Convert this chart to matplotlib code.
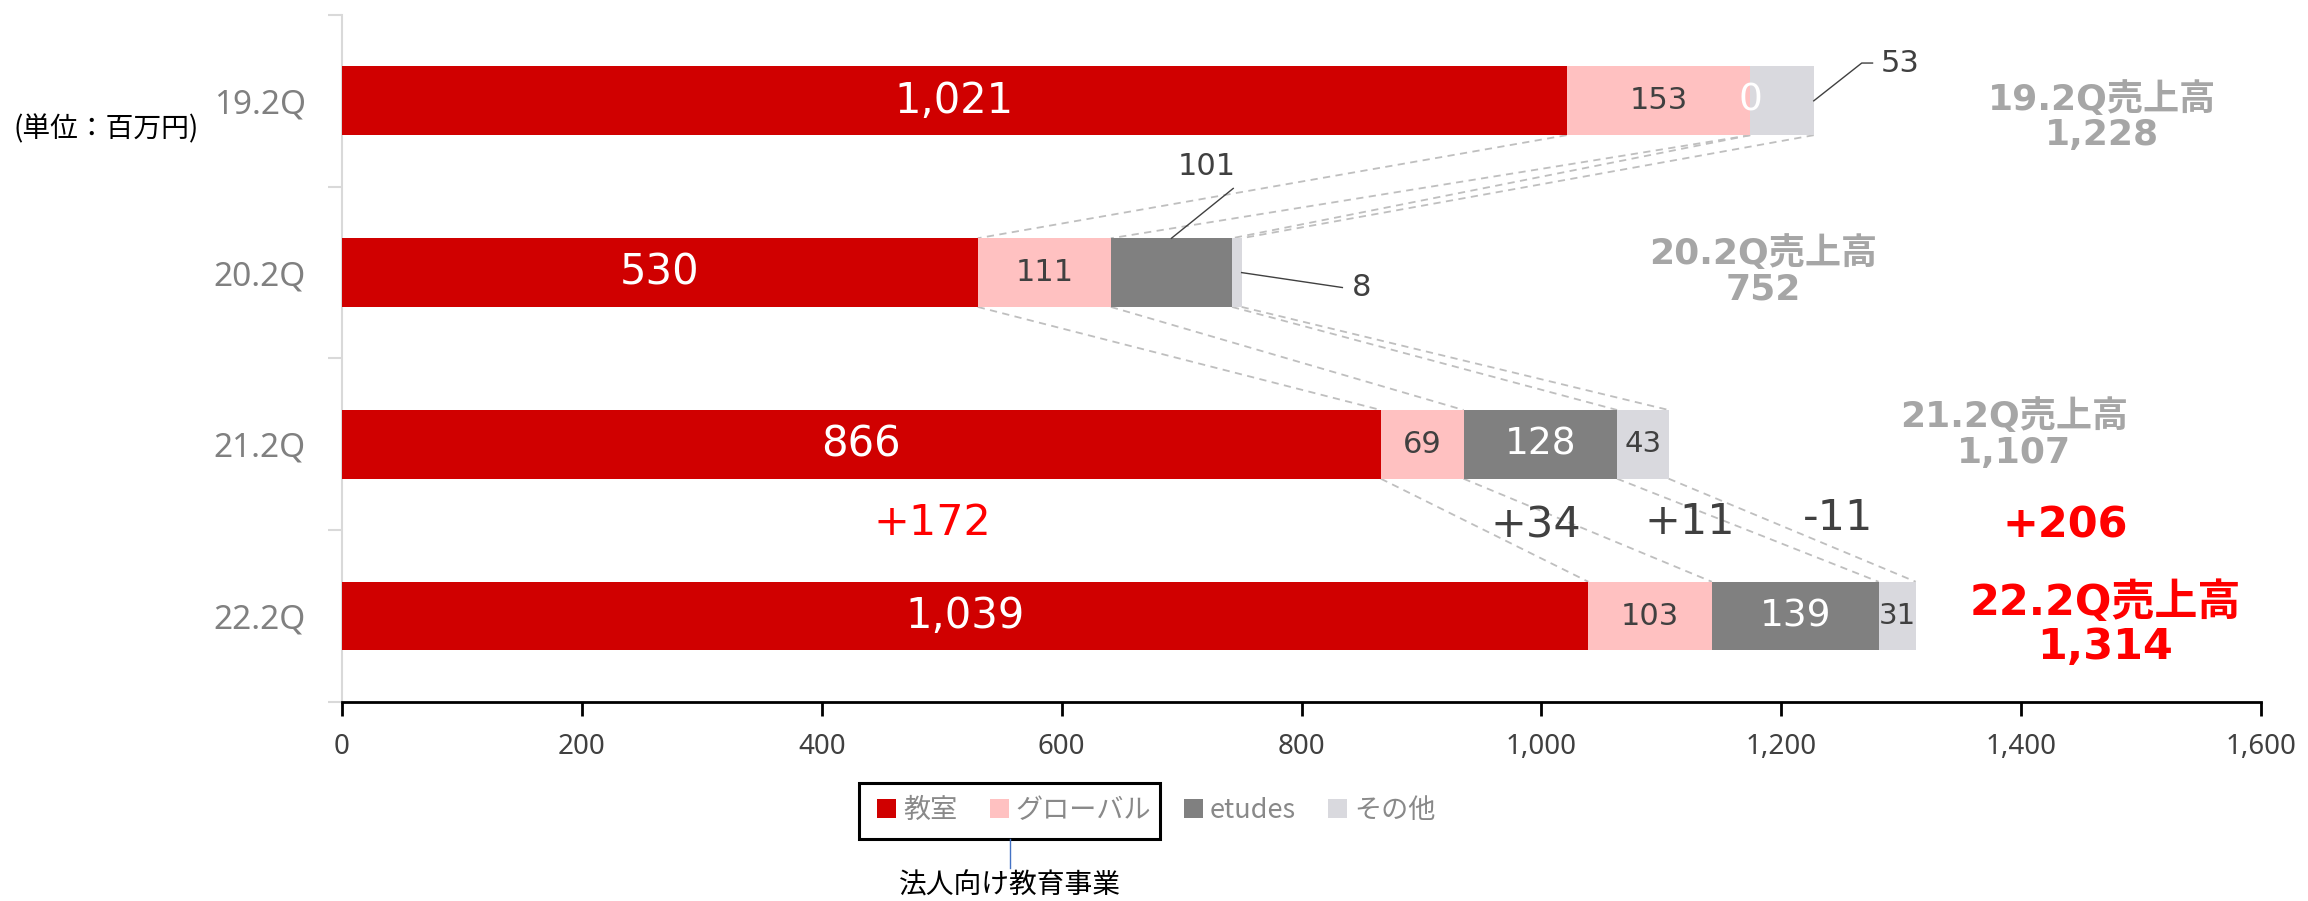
import matplotlib
matplotlib.use('Agg')
import numpy as np
import matplotlib.pyplot as plt
from matplotlib.patches import Patch, Rectangle
from matplotlib.ticker import FuncFormatter

plt.rcParams['font.family'] = ['DejaVu Sans', 'Noto Sans CJK JP']

# 売上高（百万円）
quarters = ['19.2Q', '20.2Q', '21.2Q', '22.2Q']
segments = ['教室', 'グローバル', 'etudes', 'その他']
classroom = [1021, 530, 866, 1039]
global_sales = [153, 111, 69, 103]
etudes = [0, 101, 128, 139]
other = [53, 8, 43, 31]
totals = [1228, 752, 1107, 1314]
# 22.2Q vs 21.2Q
seg_diffs = ['+172', '+34', '+11', '-11']
total_diff = '+206'

colors = ['#d00000', '#ffc1c1', '#808080', '#d9d9de']
dark = '#404040'
gray_txt = '#a6a6a6'
red_txt = '#ff0000'

fig = plt.figure(figsize=(23.08, 9.01), dpi=100)
ax = fig.add_axes([0.1482, 0.2209, 0.8315, 0.7625])

stack = np.array([classroom, global_sales, etudes, other])
ends = stack.cumsum(axis=0)
starts = ends - stack
ypos = np.arange(len(quarters))
h = 0.4

for k in range(len(segments)):
    ax.barh(ypos, stack[k], left=starts[k], height=h, color=colors[k],
            edgecolor='none', zorder=3)

# dashed guides between segment boundaries of consecutive bars
for i in range(len(quarters) - 1):
    for k in range(len(segments)):
        ax.plot([ends[k, i], ends[k, i + 1]], [i + h / 2, i + 1 - h / 2],
                color='#bfbfbf', lw=1.3, ls=(0, (4, 3)), zorder=1)

# values inside the bars
lab_style = {0: ('white', 30), 1: (dark, 22), 2: ('white', 27), 3: (dark, 21)}
outside = {(3, 0), (2, 1), (3, 1)}
for k in range(len(segments)):
    col, fs = lab_style[k]
    for i in range(len(quarters)):
        if (k, i) in outside:
            continue
        cx = starts[k, i] + stack[k, i] / 2
        ax.text(cx, i, f'{stack[k, i]:,}', ha='center', va='center',
                color=col, fontsize=fs, zorder=4)

# leader-line labels
ax.plot([ends[3, 0], 1267, 1276], [0, -0.22, -0.22], color=dark, lw=1, zorder=4)
ax.text(1283, -0.22, f'{other[0]}', ha='left', va='center', color=dark, fontsize=22)

mid_et = starts[2, 1] + etudes[1] / 2
ax.plot([mid_et, 743], [1 - h / 2, 0.51], color=dark, lw=1, zorder=4)
ax.text(721, 0.38, f'{etudes[1]}', ha='center', va='center', color=dark, fontsize=22)

ax.plot([ends[3, 1], 834], [1, 1.087], color=dark, lw=1, zorder=4)
ax.text(842, 1.087, f'{other[1]}', ha='left', va='center', color=dark, fontsize=22)

# segment changes between 21.2Q and 22.2Q
ax.text(492, 2.46, seg_diffs[0], ha='center', va='center', color=red_txt, fontsize=31)
for x, y, s in zip([995, 1124, 1247], [2.47, 2.45, 2.43], seg_diffs[1:]):
    ax.text(x, y, s, ha='center', va='center', color=dark, fontsize=31)
ax.text(1437, 2.47, total_diff, ha='center', va='center', color=red_txt,
        fontsize=31, fontweight='bold')

# total sales per quarter
tot_pos = [(1467, 0.09), (1185, 0.99), (1394, 1.94), (1470, 3.05)]
for i, (x, y) in enumerate(tot_pos):
    last = i == len(quarters) - 1
    ax.text(x, y, f'{quarters[i]}売上高\n{totals[i]:,}', ha='center', va='center',
            color=red_txt if last else gray_txt, fontsize=31 if last else 26,
            fontweight='bold', linespacing=1.05)

# axes
ax.set_xlim(0, 1600)
ax.set_ylim(3.5, -0.5)
ax.set_xticks(range(0, 1601, 200))
ax.xaxis.set_major_formatter(FuncFormatter(lambda v, p: f'{int(v):,}'))
ax.set_yticks(ypos)
ax.set_yticklabels(quarters, fontfamily=['Noto Sans', 'DejaVu Sans'])
ax.set_yticks([-0.5, 0.5, 1.5, 2.5, 3.5], minor=True)
ax.tick_params(axis='y', which='major', length=0, pad=26, labelsize=24,
               labelcolor='#808080')
ax.tick_params(axis='y', which='minor', length=10, width=1.5, color='#d9d9d9')
ax.tick_params(axis='x', length=10, width=2, color='black', pad=12,
               labelsize=20, labelcolor=dark)
for lab in ax.get_xticklabels():
    lab.set_fontfamily(['Noto Sans', 'DejaVu Sans'])
for s in ['top', 'right']:
    ax.spines[s].set_visible(False)
ax.spines['left'].set_color('#d9d9d9')
ax.spines['left'].set_linewidth(1.5)
ax.spines['bottom'].set_color('black')
ax.spines['bottom'].set_linewidth(2)

fig.text(0.046, 0.856, '(単位：百万円)', ha='center', va='center', fontsize=20,
         color='black', family=['Noto Sans CJK JP'])

# legend
handles = [Patch(facecolor=c, edgecolor='none', label=s) for c, s in zip(colors, segments)]
leg = fig.legend(handles=handles, loc='center', bbox_to_anchor=(0.501, 0.1), ncol=4,
                 frameon=False, handlelength=0.7, handleheight=0.7, handletextpad=0.25,
                 columnspacing=1.2, prop={'family': ['Noto Sans CJK JP'], 'size': 19.5})
for t in leg.get_texts():
    t.set_color('#898989')

# box around the corporate education segments
fig.canvas.draw()
r = fig.canvas.get_renderer()
hb = leg.legend_handles[0].get_window_extent(r)
tb = leg.get_texts()[1].get_window_extent(r)
lb = leg.get_window_extent(r)
inv = fig.transFigure.inverted()
cy = (lb.y0 + lb.y1) / 2
(x0, y0), (x1, y1) = inv.transform([(hb.x0 - 18, cy - 28), (tb.x1 + 9, cy + 28)])
fig.add_artist(Rectangle((x0, y0), x1 - x0, y1 - y0, transform=fig.transFigure,
                         fill=False, ec='black', lw=2.2))
bx = (x0 + x1) / 2
fig.add_artist(plt.Line2D([bx, bx], [y0, 0.037], transform=fig.transFigure,
                          color='#4472c4', lw=1))
fig.text(bx, 0.017, '法人向け教育事業', ha='center', va='center', fontsize=20,
         color='black', family=['Noto Sans CJK JP'])

fig.savefig('out.png', dpi=100)
